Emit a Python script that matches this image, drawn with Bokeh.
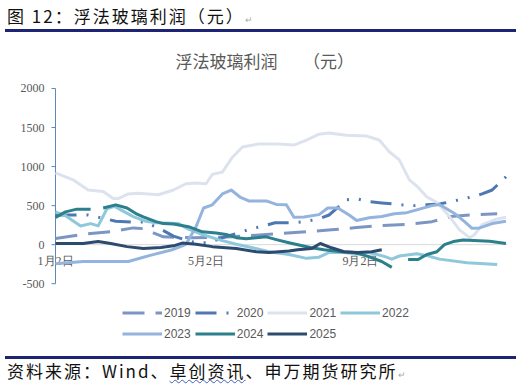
from bokeh.plotting import figure
from bokeh.models import Legend, LegendItem, Range1d, Div
from bokeh.layouts import column
from bokeh.embed import file_html
from bokeh.resources import INLINE

nan = float("nan")

# x values: days counted from Jan 2
x_tick_days = [0, 120, 243]
x_tick_labels = ["1月2日", "5月2日", "9月2日"]
y_ticks = [-500, 0, 500, 1000, 1500, 2000]
x_end = 365

years = ["2019", "2020", "2021", "2022", "2023", "2024", "2025"]

d2019 = [0, 25, 46, 62, 70, 78, 86, 94, 110, 133, 160, 180, 200, 220, 240, 260, 280, 300, 315, 330, 352]
v2019 = [80, 140, 170, 215, 205, 150, 100, 95, 90, 95, 120, 145, 165, 190, 220, 245, 260, 295, 360, 380, 395]

d2020 = [0, 16, 26, 36, 48, 60, 70, 78, 86, 94, 104, 112, 122, 134, 148, 156, 165, 175, 190, 200, 210,
         218, 232, 241, 250, 260, 276, 286, 296, 306, 322, 331, 340, 348, 359]
v2020 = [380, 380, 380, 345, 300, 290, 290, 240, 180, 110, 60, 25, 25, 95, 160, 205, 235, 280, 280, 300, 330,
         380, 575, 585, 550, 535, 510, 500, 510, 520, 575, 610, 650, 700, 870]

d2021 = [0, 14, 26, 38, 46, 50, 58, 66, 82, 94, 104, 112, 120, 125, 133, 141, 149, 162, 178, 190, 200,
         210, 218, 232, 248, 258, 266, 274, 282, 288, 296, 304, 314, 322, 330, 334, 340, 352, 359]
v2021 = [920, 830, 700, 680, 590, 590, 650, 660, 640, 700, 780, 790, 780, 900, 930, 1120, 1250, 1290, 1290,
         1275, 1340, 1415, 1430, 1400, 1390, 1340, 1190, 1085, 830, 750, 610, 540, 360, 190, 90, 130, 255, 330, 350]

d2022 = [0, 8, 20, 28, 34, 41, 47, 55, 62, 72, 80, 98, 106, 117, 130, 144, 157, 170, 186, 200, 210, 218,
         230, 240, 250, 262, 268, 274, 288, 296, 306, 328, 352]
v2022 = [420, 370, 240, 270, 240, 460, 490, 420, 360, 300, 280, 270, 200, 130, 65, 5, -40, -90, -125, -175,
         -160, -100, -100, -120, -100, -150, -185, -145, -115, -140, -185, -230, -255]

d2023 = [0, 22, 58, 77, 93, 104, 112, 118, 125, 133, 140, 147, 154, 168, 176, 184, 190, 198, 210, 217, 225,
         234, 240, 250, 260, 270, 280, 290, 300, 306, 318, 326, 332, 338, 348, 359]
v2023 = [-245, -215, -215, -130, -65, 5, 230, 470, 510, 650, 700, 610, 560, 560, 515, 510, 350, 355, 385, 470,
         470, 380, 310, 345, 360, 395, 410, 455, 500, 515, 400, 295, 210, 215, 270, 300]

d2024 = [0, 8, 17, 28, 33, 38, 48, 57, 65, 70, 80, 86, 94, 106, 117, 128, 136, 144, 152, 160, 168, 176, 186,
         194, 204, 214, 228, 238, 249, 260, 268, 275, 281, 289, 296, 304, 310, 317, 325, 346, 359]
v2024 = [350, 420, 455, 455, nan, 470, 510, 470, 390, 355, 295, 270, 265, 230, 165, 150, 130, 90, 75, 90, 100,
         65, 25, -5, -40, -65, -90, -100, -150, -215, -290, nan, -190, -190, -125, -90, 0, 40, 60, 45, 15]

d2025 = [0, 22, 34, 44, 57, 70, 84, 94, 101, 112, 125, 144, 160, 170, 186, 193, 204, 211, 220, 230, 241, 252, 260]
v2025 = [15, 15, 40, 15, -25, -50, -35, -15, 20, 5, -25, -50, -90, -100, -80, -65, -50, 15, -40, -90, -100, -90, -65]

series_x = [d2019, d2020, d2021, d2022, d2023, d2024, d2025]
series_y = [v2019, v2020, v2021, v2022, v2023, v2024, v2025]
colors = ["#7b96c2", "#4e78b3", "#dde3ee", "#8ec8da", "#93b4dc", "#2c7f8c", "#2d4a6f"]
dashes = ["22 11", "21 10 2 10 2 10", "solid", "solid", "solid", "solid", "solid"]

LAT = "Liberation Sans, Noto Sans CJK SC"
CJK = "Noto Sans CJK SC"
GRAY = "#595959"
AXIS = "#5b8ab8"

# layout geometry (pixels)
FRAME_W, FRAME_H = 501, 266
PLOT_W = 458                 # width used by the data area
LEFT_PAD = 49                # frame room left of the value axis (tick labels)
PLOT_TOP_PAD, PLOT_BOTTOM_PAD = 8, 62   # frame room above 2000 / below -500 for labels and legend
kx = PLOT_W / x_end
ky = (FRAME_H - PLOT_TOP_PAD - PLOT_BOTTOM_PAD) / (max(y_ticks) - min(y_ticks))
x_start = -LEFT_PAD / kx
x_stop = x_start + FRAME_W / kx
y_top = max(y_ticks) + PLOT_TOP_PAD / ky
y_bot = min(y_ticks) - PLOT_BOTTOM_PAD / ky

p = figure(width=511, height=314, x_range=Range1d(x_start, x_stop), y_range=Range1d(y_bot, y_top),
           output_backend="svg", toolbar_location=None, x_axis_location=None, y_axis_location=None,
           min_border_left=6, min_border_right=4, min_border_top=42, min_border_bottom=6)
p.outline_line_color = None
p.xgrid.visible = False
p.ygrid.visible = False
p.background_fill_color = "white"
p.border_fill_color = "white"

p.title.text = "浮法玻璃利润　　（元）"
p.title.align = "left"
p.title.offset = 169
p.title.text_font = CJK
p.title.text_font_size = "17px"
p.title.text_color = GRAY
p.title.text_font_style = "normal"
p.title.standoff = 16

# vertical value axis (line, outside ticks, labels)
tick_len = 4 / kx
p.segment(x0=[0], y0=[min(y_ticks)], x1=[0], y1=[max(y_ticks)], line_color=AXIS, line_width=1)
p.segment(x0=[0] * len(y_ticks), y0=y_ticks, x1=[-tick_len] * len(y_ticks), y1=y_ticks,
          line_color=AXIS, line_width=1)
p.text(x=[0] * len(y_ticks), y=y_ticks, text=[str(t) for t in y_ticks], x_offset=-11,
       text_align="right", text_baseline="middle", text_font=LAT, text_font_size="12px", text_color=GRAY)

# horizontal category axis crossing at zero
p.segment(x0=[x_tick_days[0]], y0=[0], x1=[x_end], y1=[0], line_color="#d9d9d9", line_width=1)
p.text(x=x_tick_days, y=[0] * len(x_tick_days), text=x_tick_labels, y_offset=9,
       text_align="center", text_baseline="top", text_font=LAT, text_font_size="12px", text_color=GRAY)

items = []
for yr, xs, ys, c, dsh in zip(years, series_x, series_y, colors, dashes):
    r = p.line(xs, ys, line_color=c, line_width=3, line_dash=dsh, line_join="round")
    items.append(LegendItem(label=yr, renderers=[r]))

legend = Legend(items=items, orientation="horizontal", ncols=4,
                glyph_width=40, glyph_height=17, label_height=17, label_standoff=2, spacing=4,
                padding=0, margin=0, border_line_color=None, background_fill_alpha=0,
                label_text_font=LAT, label_text_font_size="12px", label_text_color=GRAY,
                location=(116, 3))
p.add_layout(legend, "center")

header = Div(text='图 12：浮法玻璃利润（元）<span style="color:#aaa;font-size:9px;letter-spacing:0">↵</span>',
             width=511, height=27,
             styles={"font-family": CJK, "font-size": "17px", "letter-spacing": "2px", "color": "#111",
                     "border-bottom": "3px solid #1c2473", "line-height": "22px", "padding-left": "2px",
                     "box-sizing": "border-box", "white-space": "nowrap"})
footer = Div(text='资料来源：Wind、<span style="text-decoration:underline wavy #4060c0;text-decoration-thickness:1px">卓创资讯</span>、申万期货研究所<span style="color:#aaa;font-size:9px;letter-spacing:0">↵</span>',
             width=511, height=29,
             styles={"font-family": CJK, "font-size": "17px", "letter-spacing": "2px", "color": "#111",
                     "border-top": "3px solid #1c2473", "line-height": "24px", "padding-left": "2px",
                     "box-sizing": "border-box", "white-space": "nowrap"})

layout = column(header, p, footer, spacing=0)
open("out.html", "w").write(file_html(layout, INLINE))
